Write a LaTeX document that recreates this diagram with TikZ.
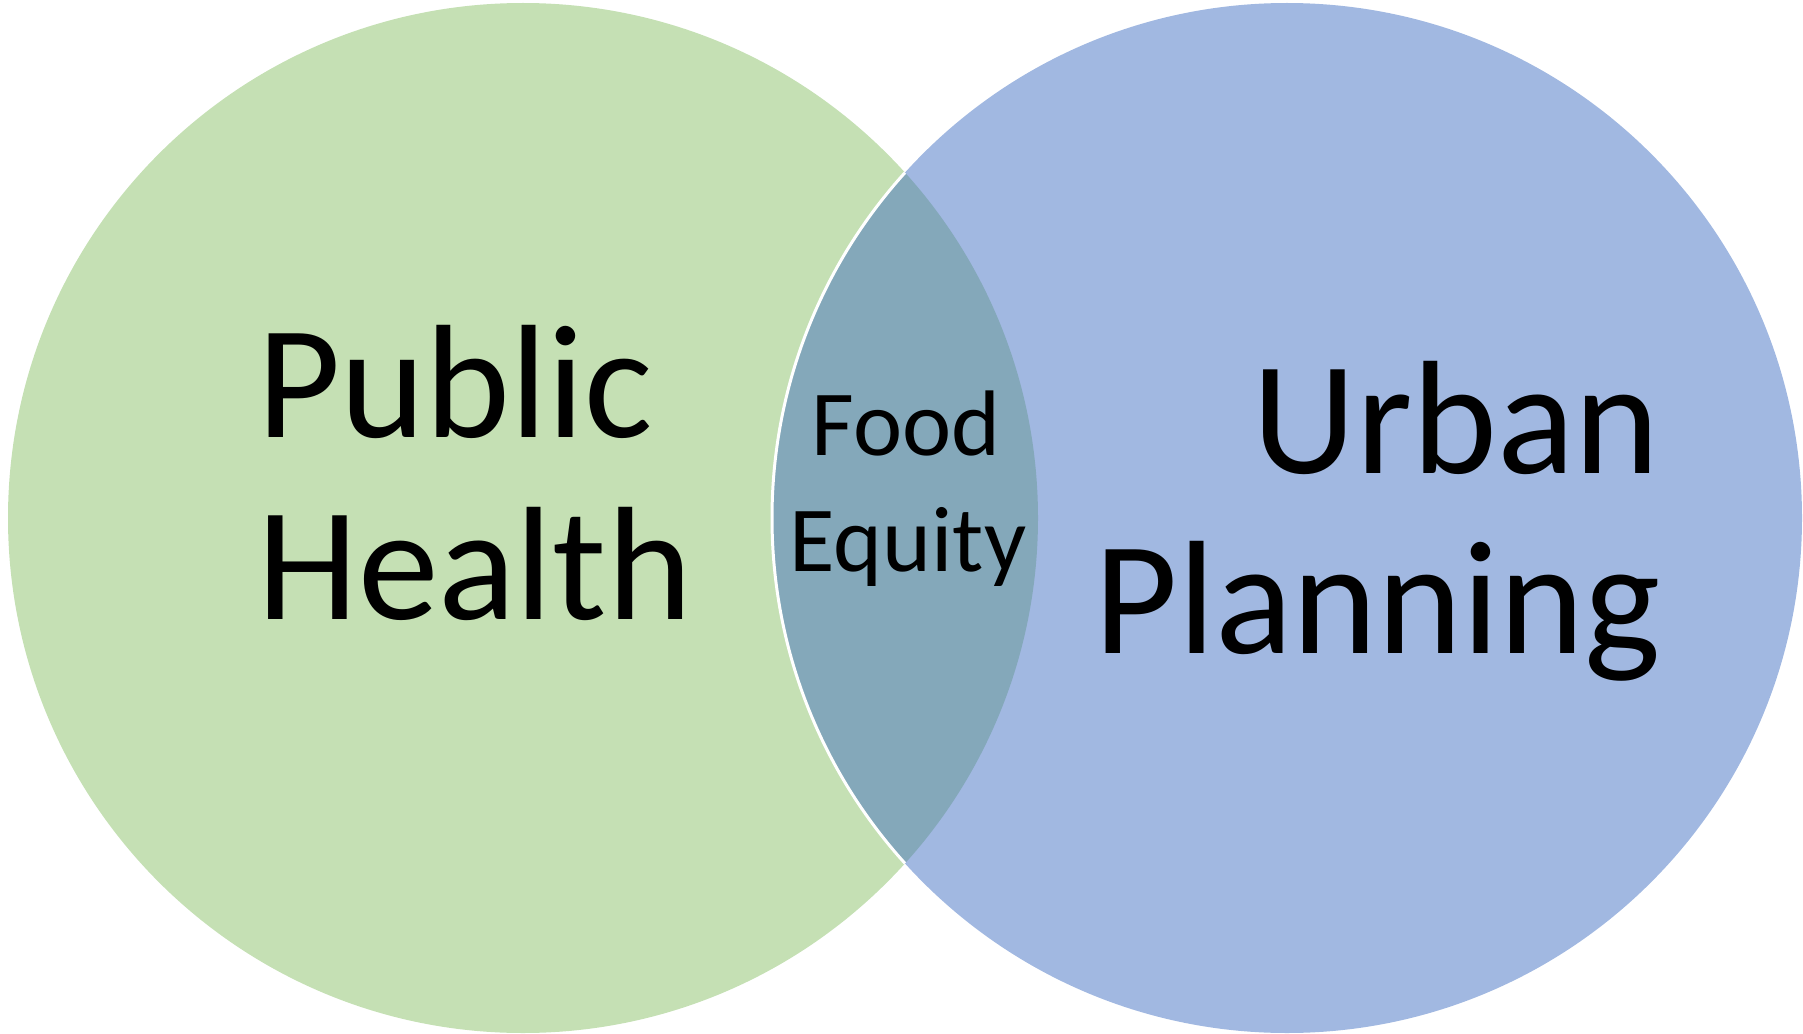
\documentclass[tikz,border=0pt]{standalone}
\usepackage{fontspec}
\setmainfont{Carlito}
\definecolor{PHcolor}{HTML}{C5E0B4}
\definecolor{UPcolor}{HTML}{A1B8E1}
\definecolor{FEcolor}{HTML}{84A8BA}
\usepackage{tikz}

\begin{document}
\begin{tikzpicture}[x=0.02cm, y=-0.02cm]

    \tikzset{%
        bigword/.style={inner sep=0, font=\fontsize{92}{103}\selectfont},
        smallword/.style={inner sep=0, font=\fontsize{53}{60}\selectfont}
    }

    \useasboundingbox (0, 0) rectangle (1803, 1034);

    \coordinate (PHcentre) at (523, 518);
    \coordinate (UPcentre) at (1287, 518);

    \fill [PHcolor] (PHcentre) circle (515);
    \fill [UPcolor] (UPcentre) circle (515);
    \begin{scope}
        \clip (PHcentre) circle (515);
        \fill [FEcolor] (UPcentre) circle (515);
        \draw [white, line width=1.7pt] (UPcentre) circle (515);
    \end{scope}

    \node (public) at (257, 437) [bigword, anchor=base west] {Public};
    \node (health) at (257, 619) [bigword, anchor=base west] {Health};

    \node (urban) at (1660, 473) [bigword, anchor=base east] {Urban};
    \node (planning) at (1661, 653) [bigword, anchor=base east] {Planning};

    \node (food) at (906, 455) [smallword, anchor=base] {Food};
    \node (equity) at (908, 571) [smallword, anchor=base] {Equity};

\end{tikzpicture}
\end{document}
